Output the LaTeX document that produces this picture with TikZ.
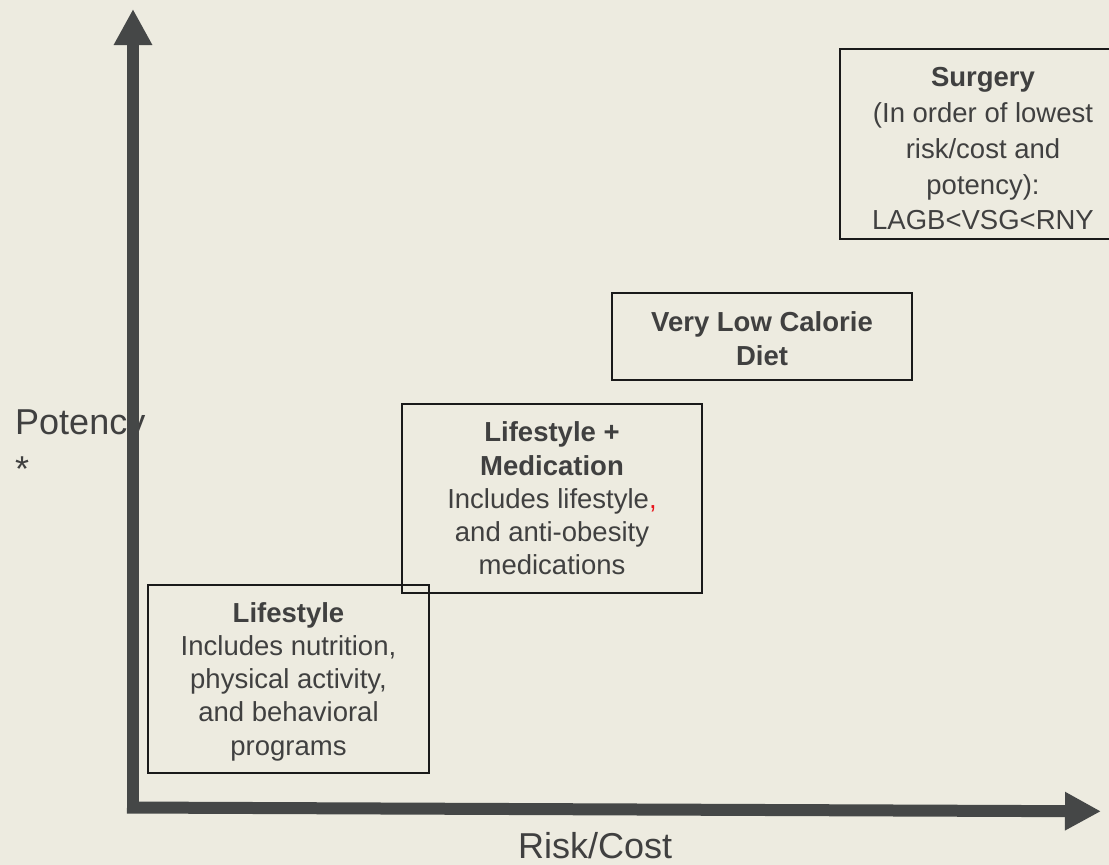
\documentclass[tikz,border=0pt]{standalone}
\usepackage{fontspec}
\setmainfont{Liberation Sans}
\usetikzlibrary{arrows.meta,calc}

\definecolor{paper}{HTML}{EDEBE0}
\definecolor{axisgray}{HTML}{454747}
\definecolor{inkgray}{HTML}{404040}
\definecolor{framegray}{HTML}{1A1A1A}
\definecolor{commared}{HTML}{E8141B}

\begin{document}
\begin{tikzpicture}[x=1pt, y=-1pt,
  panel/.style={draw=framegray, line width=1.4pt, inner sep=0pt, outer sep=0pt},
  boxtext/.style={anchor=base, inner sep=0pt, text=inkgray,
                  font=\fontsize{27.5}{33.3}\selectfont},
  axislabel/.style={anchor=base west, inner sep=0pt, text=inkgray,
                    font=\fontsize{36}{47}\selectfont},
  axis/.style={draw=axisgray, line width=12pt, line cap=butt,
               -{Triangle[width=36pt,length=36pt]}}]

  % canvas
  \useasboundingbox (0,0) rectangle (1109,865);
  \fill[paper] (0,0) rectangle (1109,865);
  \clip (0,0) rectangle (1109,865);

  % axis titles (the vertical axis is drawn over the y label)
  \node[axislabel] (potency) at (15,434)
    {\begin{tabular}[t]{@{}l@{}}Potency\\{}*\end{tabular}};
  \node[axislabel] (riskcost) at (518,858) {Risk/Cost};

  % treatment boxes
  \node[panel, minimum width=281pt, minimum height=188pt] (life) at (288.5,679) {};
  \node[panel, minimum width=300pt, minimum height=189pt] (lifemed) at (552,498.5) {};
  \node[panel, minimum width=300pt, minimum height=87pt] (vlcd) at (762,336.5) {};
  \node[panel, minimum width=286pt, minimum height=190pt] (surg) at (983,144) {};

  \node[boxtext] (lifeT) at ($(life.north)+(0,37)$)
    {\begin{tabular}[t]{@{}c@{}}\textbf{Lifestyle}\\
      Includes nutrition,\\ physical activity,\\ and behavioral\\ programs\end{tabular}};

  \node[boxtext] (lifemedT) at ($(lifemed.north)+(0,37.7)$)
    {\begin{tabular}[t]{@{}c@{}}\textbf{Lifestyle +}\\ \textbf{Medication}\\
      Includes lifestyle\textcolor{commared}{,}\\ and anti-obesity\\ medications\end{tabular}};

  \node[boxtext] (vlcdT) at ($(vlcd.north)+(0,38.7)$)
    {\begin{tabular}[t]{@{}c@{}}\textbf{Very Low Calorie}\\ \textbf{Diet}\end{tabular}};

  \node[boxtext, font=\fontsize{27.5}{35.8}\selectfont] (surgT) at ($(surg.north)+(0,37.7)$)
    {\begin{tabular}[t]{@{}c@{}}\textbf{Surgery}\\ (In order of lowest\\
      risk/cost and\\ potency):\\ LAGB<VSG<RNY\end{tabular}};

  % axes
  \coordinate (origin) at (133,813);
  \coordinate (ytip) at (133,9);
  \coordinate (xstart) at (127,807.5);
  \coordinate (xtip) at (1101,811.3);
  \draw[axis] (origin) -- (ytip);
  \draw[axis] (xstart) -- (xtip);
\end{tikzpicture}
\end{document}
